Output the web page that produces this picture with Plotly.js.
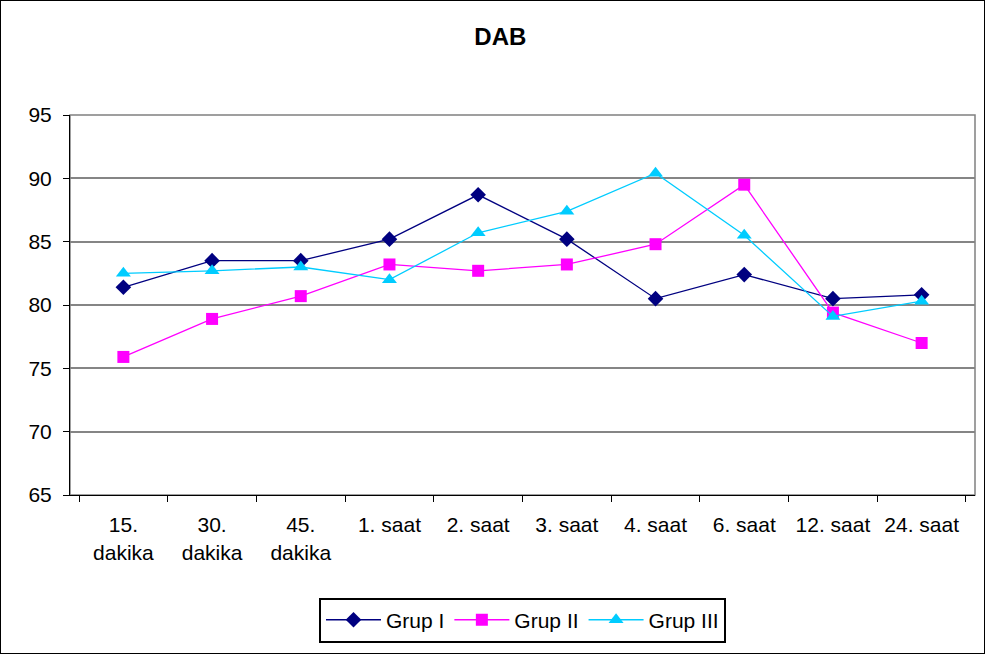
<!DOCTYPE html>
<html>
<head>
<meta charset="utf-8">
<script src="https://cdn.plot.ly/plotly-3.0.1.min.js"></script>
<style>
  html, body { margin: 0; padding: 0; background: #fff; }
  #chart { width: 985px; height: 654px; box-sizing: border-box; border: 1px solid #000; }
</style>
</head>
<body>
<div id="chart"></div>
<script>
const categories = ["15.<br>dakika", "30.<br>dakika", "45.<br>dakika", "1. saat", "2. saat", "3. saat", "4. saat", "6. saat", "12. saat", "24. saat"];
const grupI   = [81.4, 83.5, 83.5, 85.2, 88.7, 85.2, 80.5, 82.4, 80.5, 80.8];
const grupII  = [75.9, 78.9, 80.7, 83.2, 82.7, 83.2, 84.8, 89.5, 79.4, 77.0];
const grupIII = [82.5, 82.7, 83.0, 82.0, 85.7, 87.4, 90.4, 85.5, 79.1, 80.3];
const seriesNames = ["Grup I", "Grup II", "Grup III"];
const yTicks = [65, 70, 75, 80, 85, 90, 95];

const font = "Liberation Sans, Arial, sans-serif";

const traces = [
  {x: categories, y: grupI, name: seriesNames[0], type: "scatter", mode: "lines+markers",
   line: {color: "#000080", width: 1.3}, marker: {symbol: "diamond", size: 12, color: "#000080"}},
  {x: categories, y: grupII, name: seriesNames[1], type: "scatter", mode: "lines+markers",
   line: {color: "#FF00FF", width: 1.3}, marker: {symbol: "square", size: 12, color: "#FF00FF"}},
  {x: categories, y: grupIII, name: seriesNames[2], type: "scatter", mode: "lines+markers",
   line: {color: "#00CCFF", width: 1.3}, marker: {symbol: "triangle-up", size: 13, color: "#00CCFF"}}
];

const layout = {
  width: 983, height: 652,
  margin: {l: 69, r: 9, t: 114, b: 158},
  paper_bgcolor: "#fff", plot_bgcolor: "#fff",
  font: {family: font, size: 21, color: "#000"},
  title: {text: "<b>DAB</b>", font: {family: font, size: 24, color: "#000"},
          x: 0.508, xanchor: "center", y: 0.945, yanchor: "middle", xref: "container", yref: "container"},
  showlegend: true,
  legend: {orientation: "h", x: 0.5, xanchor: "center", y: -0.27, yanchor: "top",
           bordercolor: "#000", borderwidth: 2, bgcolor: "#fff",
           font: {family: font, size: 21, color: "#000"}, itemwidth: 55, traceorder: "normal"},
  xaxis: {type: "category", tickson: "boundaries", ticks: "outside", ticklen: 6, tickcolor: "#000",
          showline: true, linecolor: "#000", linewidth: 1, showgrid: false, zeroline: false,
          ticklabelstandoff: 11,
          tickfont: {family: font, size: 21, color: "#000"}, fixedrange: true},
  yaxis: {range: [65, 95], tickvals: yTicks, ticktext: yTicks.map(String), ticks: "outside", ticklen: 6, tickcolor: "#000",
          showline: true, linecolor: "#000", linewidth: 1, showgrid: true, gridcolor: "#858585", gridwidth: 2,
          ticklabelstandoff: 7,
          zeroline: false, tickfont: {family: font, size: 21, color: "#000"}, fixedrange: true},
  shapes: [
    {type: "rect", xref: "paper", yref: "paper", x0: 0, x1: 1, y0: 0, y1: 1,
     line: {color: "#808080", width: 1.5}, layer: "below"}
  ]
};

Plotly.newPlot("chart", traces, layout, {displayModeBar: false, staticPlot: true});
</script>
</body>
</html>
